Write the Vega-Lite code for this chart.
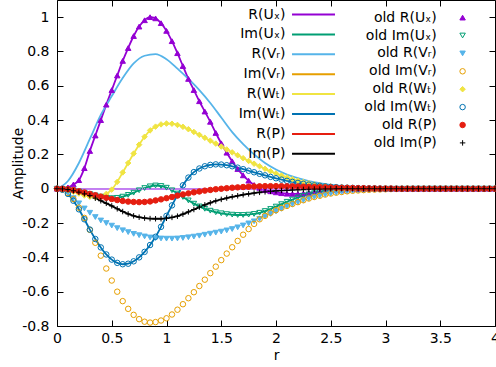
{
"$schema":"https://vega.github.io/schema/vega-lite/v6.json",
"width":438,"height":326,
"autosize":{"type":"none"},
"padding":{"left":57,"top":0,"right":1,"bottom":41},
"background":"white",
"config":{
 "font":"DejaVu Sans",
 "view":{"stroke":"#000","strokeWidth":1},
 "axis":{"grid":false,"domain":false,"ticks":true,"tickColor":"#000","tickWidth":1,"tickSize":-6,"labelFont":"DejaVu Sans","labelFontSize":14,"labelColor":"#000","titleFont":"DejaVu Sans","titleFontSize":14,"titleFontWeight":"normal","titleColor":"#000"},
 "legend":{"labelFont":"DejaVu Sans","labelFontSize":14,"labelColor":"#000","padding":0,"labelLimit":300}
},
"data":{"values":[
{"s":"R(Uₓ)","r":0,"v":0},{"s":"R(Uₓ)","r":0.05,"v":0.002},{"s":"R(Uₓ)","r":0.1,"v":0.008},{"s":"R(Uₓ)","r":0.15,"v":0.025},{"s":"R(Uₓ)","r":0.2,"v":0.05},{"s":"R(Uₓ)","r":0.25,"v":0.12},{"s":"R(Uₓ)","r":0.3,"v":0.22},{"s":"R(Uₓ)","r":0.35,"v":0.31},{"s":"R(Uₓ)","r":0.4,"v":0.4},{"s":"R(Uₓ)","r":0.45,"v":0.49},
{"s":"R(Uₓ)","r":0.5,"v":0.575},{"s":"R(Uₓ)","r":0.55,"v":0.66},{"s":"R(Uₓ)","r":0.6,"v":0.745},{"s":"R(Uₓ)","r":0.65,"v":0.82},{"s":"R(Uₓ)","r":0.7,"v":0.89},{"s":"R(Uₓ)","r":0.75,"v":0.945},{"s":"R(Uₓ)","r":0.8,"v":0.982},{"s":"R(Uₓ)","r":0.85,"v":1.0},{"s":"R(Uₓ)","r":0.9,"v":0.993},{"s":"R(Uₓ)","r":0.95,"v":0.965},
{"s":"R(Uₓ)","r":1,"v":0.92},{"s":"R(Uₓ)","r":1.05,"v":0.86},{"s":"R(Uₓ)","r":1.1,"v":0.79},{"s":"R(Uₓ)","r":1.15,"v":0.715},{"s":"R(Uₓ)","r":1.2,"v":0.64},{"s":"R(Uₓ)","r":1.25,"v":0.575},{"s":"R(Uₓ)","r":1.3,"v":0.51},{"s":"R(Uₓ)","r":1.35,"v":0.45},{"s":"R(Uₓ)","r":1.4,"v":0.39},{"s":"R(Uₓ)","r":1.45,"v":0.325},
{"s":"R(Uₓ)","r":1.5,"v":0.265},{"s":"R(Uₓ)","r":1.55,"v":0.21},{"s":"R(Uₓ)","r":1.6,"v":0.16},{"s":"R(Uₓ)","r":1.65,"v":0.115},{"s":"R(Uₓ)","r":1.7,"v":0.078},{"s":"R(Uₓ)","r":1.75,"v":0.047},{"s":"R(Uₓ)","r":1.8,"v":0.022},{"s":"R(Uₓ)","r":1.85,"v":0.005},{"s":"R(Uₓ)","r":1.9,"v":-0.006},{"s":"R(Uₓ)","r":1.95,"v":-0.015},
{"s":"R(Uₓ)","r":2,"v":-0.021},{"s":"R(Uₓ)","r":2.05,"v":-0.026},{"s":"R(Uₓ)","r":2.1,"v":-0.029},{"s":"R(Uₓ)","r":2.15,"v":-0.03},{"s":"R(Uₓ)","r":2.2,"v":-0.03},{"s":"R(Uₓ)","r":2.25,"v":-0.028},{"s":"R(Uₓ)","r":2.3,"v":-0.025},{"s":"R(Uₓ)","r":2.35,"v":-0.021},{"s":"R(Uₓ)","r":2.4,"v":-0.017},{"s":"R(Uₓ)","r":2.45,"v":-0.013},
{"s":"R(Uₓ)","r":2.5,"v":-0.01},{"s":"R(Uₓ)","r":2.55,"v":-0.008},{"s":"R(Uₓ)","r":2.6,"v":-0.006},{"s":"R(Uₓ)","r":2.65,"v":-0.004},{"s":"R(Uₓ)","r":2.7,"v":-0.003},{"s":"R(Uₓ)","r":2.75,"v":-0.002},{"s":"R(Uₓ)","r":2.8,"v":-0.001},{"s":"R(Uₓ)","r":2.85,"v":0},{"s":"R(Uₓ)","r":2.9,"v":0},{"s":"R(Uₓ)","r":2.95,"v":0},
{"s":"R(Uₓ)","r":3,"v":0},{"s":"R(Uₓ)","r":3.05,"v":0},{"s":"R(Uₓ)","r":3.1,"v":0},{"s":"R(Uₓ)","r":3.15,"v":0},{"s":"R(Uₓ)","r":3.2,"v":0},{"s":"R(Uₓ)","r":3.25,"v":0},{"s":"R(Uₓ)","r":3.3,"v":0},{"s":"R(Uₓ)","r":3.35,"v":0},{"s":"R(Uₓ)","r":3.4,"v":0},{"s":"R(Uₓ)","r":3.45,"v":0},
{"s":"R(Uₓ)","r":3.5,"v":0},{"s":"R(Uₓ)","r":3.55,"v":0},{"s":"R(Uₓ)","r":3.6,"v":0},{"s":"R(Uₓ)","r":3.65,"v":0},{"s":"R(Uₓ)","r":3.7,"v":0},{"s":"R(Uₓ)","r":3.75,"v":0},{"s":"R(Uₓ)","r":3.8,"v":0},{"s":"R(Uₓ)","r":3.85,"v":0},{"s":"R(Uₓ)","r":3.9,"v":0},{"s":"R(Uₓ)","r":3.95,"v":0},{"s":"R(Uₓ)","r":4,"v":0},

{"s":"Im(Uₓ)","r":0,"v":0},{"s":"Im(Uₓ)","r":0.05,"v":-0.002},{"s":"Im(Uₓ)","r":0.1,"v":-0.005},{"s":"Im(Uₓ)","r":0.15,"v":-0.01},{"s":"Im(Uₓ)","r":0.2,"v":-0.016},{"s":"Im(Uₓ)","r":0.25,"v":-0.023},{"s":"Im(Uₓ)","r":0.3,"v":-0.031},{"s":"Im(Uₓ)","r":0.35,"v":-0.039},{"s":"Im(Uₓ)","r":0.4,"v":-0.046},{"s":"Im(Uₓ)","r":0.45,"v":-0.052},
{"s":"Im(Uₓ)","r":0.5,"v":-0.055},{"s":"Im(Uₓ)","r":0.55,"v":-0.053},{"s":"Im(Uₓ)","r":0.6,"v":-0.046},{"s":"Im(Uₓ)","r":0.65,"v":-0.036},{"s":"Im(Uₓ)","r":0.7,"v":-0.023},{"s":"Im(Uₓ)","r":0.75,"v":-0.009},{"s":"Im(Uₓ)","r":0.8,"v":0.004},{"s":"Im(Uₓ)","r":0.85,"v":0.014},{"s":"Im(Uₓ)","r":0.9,"v":0.019},{"s":"Im(Uₓ)","r":0.95,"v":0.016},
{"s":"Im(Uₓ)","r":1,"v":0.006},{"s":"Im(Uₓ)","r":1.05,"v":-0.009},{"s":"Im(Uₓ)","r":1.1,"v":-0.028},{"s":"Im(Uₓ)","r":1.15,"v":-0.048},{"s":"Im(Uₓ)","r":1.2,"v":-0.068},{"s":"Im(Uₓ)","r":1.25,"v":-0.087},{"s":"Im(Uₓ)","r":1.3,"v":-0.103},{"s":"Im(Uₓ)","r":1.35,"v":-0.117},{"s":"Im(Uₓ)","r":1.4,"v":-0.128},{"s":"Im(Uₓ)","r":1.45,"v":-0.137},
{"s":"Im(Uₓ)","r":1.5,"v":-0.143},{"s":"Im(Uₓ)","r":1.55,"v":-0.148},{"s":"Im(Uₓ)","r":1.6,"v":-0.151},{"s":"Im(Uₓ)","r":1.65,"v":-0.153},{"s":"Im(Uₓ)","r":1.7,"v":-0.153},{"s":"Im(Uₓ)","r":1.75,"v":-0.151},{"s":"Im(Uₓ)","r":1.8,"v":-0.147},{"s":"Im(Uₓ)","r":1.85,"v":-0.14},{"s":"Im(Uₓ)","r":1.9,"v":-0.13},{"s":"Im(Uₓ)","r":1.95,"v":-0.118},
{"s":"Im(Uₓ)","r":2,"v":-0.104},{"s":"Im(Uₓ)","r":2.05,"v":-0.09},{"s":"Im(Uₓ)","r":2.1,"v":-0.076},{"s":"Im(Uₓ)","r":2.15,"v":-0.063},{"s":"Im(Uₓ)","r":2.2,"v":-0.051},{"s":"Im(Uₓ)","r":2.25,"v":-0.041},{"s":"Im(Uₓ)","r":2.3,"v":-0.033},{"s":"Im(Uₓ)","r":2.35,"v":-0.026},{"s":"Im(Uₓ)","r":2.4,"v":-0.02},{"s":"Im(Uₓ)","r":2.45,"v":-0.016},
{"s":"Im(Uₓ)","r":2.5,"v":-0.012},{"s":"Im(Uₓ)","r":2.55,"v":-0.009},{"s":"Im(Uₓ)","r":2.6,"v":-0.007},{"s":"Im(Uₓ)","r":2.65,"v":-0.005},{"s":"Im(Uₓ)","r":2.7,"v":-0.004},{"s":"Im(Uₓ)","r":2.75,"v":-0.003},{"s":"Im(Uₓ)","r":2.8,"v":-0.002},{"s":"Im(Uₓ)","r":2.85,"v":-0.002},{"s":"Im(Uₓ)","r":2.9,"v":-0.001},{"s":"Im(Uₓ)","r":2.95,"v":-0.001},
{"s":"Im(Uₓ)","r":3,"v":0},{"s":"Im(Uₓ)","r":3.05,"v":0},{"s":"Im(Uₓ)","r":3.1,"v":0},{"s":"Im(Uₓ)","r":3.15,"v":0},{"s":"Im(Uₓ)","r":3.2,"v":0},{"s":"Im(Uₓ)","r":3.25,"v":0},{"s":"Im(Uₓ)","r":3.3,"v":0},{"s":"Im(Uₓ)","r":3.35,"v":0},{"s":"Im(Uₓ)","r":3.4,"v":0},{"s":"Im(Uₓ)","r":3.45,"v":0},
{"s":"Im(Uₓ)","r":3.5,"v":0},{"s":"Im(Uₓ)","r":3.55,"v":0},{"s":"Im(Uₓ)","r":3.6,"v":0},{"s":"Im(Uₓ)","r":3.65,"v":0},{"s":"Im(Uₓ)","r":3.7,"v":0},{"s":"Im(Uₓ)","r":3.75,"v":0},{"s":"Im(Uₓ)","r":3.8,"v":0},{"s":"Im(Uₓ)","r":3.85,"v":0},{"s":"Im(Uₓ)","r":3.9,"v":0},{"s":"Im(Uₓ)","r":3.95,"v":0},{"s":"Im(Uₓ)","r":4,"v":0},

{"s":"R(Vᵣ)","k":"n","r":0,"v":0},{"s":"R(Vᵣ)","k":"n","r":0.1,"v":0.045},{"s":"R(Vᵣ)","k":"n","r":0.2,"v":0.15},{"s":"R(Vᵣ)","k":"n","r":0.3,"v":0.29},{"s":"R(Vᵣ)","k":"n","r":0.4,"v":0.43},{"s":"R(Vᵣ)","k":"n","r":0.5,"v":0.54},{"s":"R(Vᵣ)","k":"n","r":0.6,"v":0.645},{"s":"R(Vᵣ)","k":"n","r":0.7,"v":0.73},{"s":"R(Vᵣ)","k":"n","r":0.8,"v":0.775},{"s":"R(Vᵣ)","k":"n","r":0.9,"v":0.785},
{"s":"R(Vᵣ)","k":"n","r":1,"v":0.755},{"s":"R(Vᵣ)","k":"n","r":1.1,"v":0.7},{"s":"R(Vᵣ)","k":"n","r":1.2,"v":0.64},{"s":"R(Vᵣ)","k":"n","r":1.3,"v":0.575},{"s":"R(Vᵣ)","k":"n","r":1.4,"v":0.5},{"s":"R(Vᵣ)","k":"n","r":1.5,"v":0.415},{"s":"R(Vᵣ)","k":"n","r":1.6,"v":0.33},{"s":"R(Vᵣ)","k":"n","r":1.7,"v":0.26},{"s":"R(Vᵣ)","k":"n","r":1.8,"v":0.2},{"s":"R(Vᵣ)","k":"n","r":1.9,"v":0.15},
{"s":"R(Vᵣ)","k":"n","r":2,"v":0.112},{"s":"R(Vᵣ)","k":"n","r":2.1,"v":0.083},{"s":"R(Vᵣ)","k":"n","r":2.2,"v":0.062},{"s":"R(Vᵣ)","k":"n","r":2.3,"v":0.045},{"s":"R(Vᵣ)","k":"n","r":2.4,"v":0.032},{"s":"R(Vᵣ)","k":"n","r":2.5,"v":0.022},{"s":"R(Vᵣ)","k":"n","r":2.6,"v":0.015},{"s":"R(Vᵣ)","k":"n","r":2.7,"v":0.01},{"s":"R(Vᵣ)","k":"n","r":2.8,"v":0.006},{"s":"R(Vᵣ)","k":"n","r":2.9,"v":0.004},
{"s":"R(Vᵣ)","k":"n","r":3,"v":0.002},{"s":"R(Vᵣ)","k":"n","r":3.5,"v":0},{"s":"R(Vᵣ)","k":"n","r":4,"v":0},

{"s":"R(Vᵣ)","k":"o","r":0,"v":0},{"s":"R(Vᵣ)","k":"o","r":0.05,"v":-0.005},{"s":"R(Vᵣ)","k":"o","r":0.1,"v":-0.025},{"s":"R(Vᵣ)","k":"o","r":0.15,"v":-0.055},{"s":"R(Vᵣ)","k":"o","r":0.2,"v":-0.085},{"s":"R(Vᵣ)","k":"o","r":0.25,"v":-0.115},{"s":"R(Vᵣ)","k":"o","r":0.3,"v":-0.14},{"s":"R(Vᵣ)","k":"o","r":0.35,"v":-0.165},{"s":"R(Vᵣ)","k":"o","r":0.4,"v":-0.185},{"s":"R(Vᵣ)","k":"o","r":0.45,"v":-0.2},
{"s":"R(Vᵣ)","k":"o","r":0.5,"v":-0.215},{"s":"R(Vᵣ)","k":"o","r":0.55,"v":-0.23},{"s":"R(Vᵣ)","k":"o","r":0.6,"v":-0.242},{"s":"R(Vᵣ)","k":"o","r":0.65,"v":-0.253},{"s":"R(Vᵣ)","k":"o","r":0.7,"v":-0.263},{"s":"R(Vᵣ)","k":"o","r":0.75,"v":-0.271},{"s":"R(Vᵣ)","k":"o","r":0.8,"v":-0.278},{"s":"R(Vᵣ)","k":"o","r":0.85,"v":-0.284},{"s":"R(Vᵣ)","k":"o","r":0.9,"v":-0.288},{"s":"R(Vᵣ)","k":"o","r":0.95,"v":-0.29},
{"s":"R(Vᵣ)","k":"o","r":1,"v":-0.291},{"s":"R(Vᵣ)","k":"o","r":1.05,"v":-0.291},{"s":"R(Vᵣ)","k":"o","r":1.1,"v":-0.29},{"s":"R(Vᵣ)","k":"o","r":1.15,"v":-0.287},{"s":"R(Vᵣ)","k":"o","r":1.2,"v":-0.283},{"s":"R(Vᵣ)","k":"o","r":1.25,"v":-0.279},{"s":"R(Vᵣ)","k":"o","r":1.3,"v":-0.274},{"s":"R(Vᵣ)","k":"o","r":1.35,"v":-0.268},{"s":"R(Vᵣ)","k":"o","r":1.4,"v":-0.262},{"s":"R(Vᵣ)","k":"o","r":1.45,"v":-0.256},
{"s":"R(Vᵣ)","k":"o","r":1.5,"v":-0.25},{"s":"R(Vᵣ)","k":"o","r":1.55,"v":-0.243},{"s":"R(Vᵣ)","k":"o","r":1.6,"v":-0.235},{"s":"R(Vᵣ)","k":"o","r":1.65,"v":-0.225},{"s":"R(Vᵣ)","k":"o","r":1.7,"v":-0.214},{"s":"R(Vᵣ)","k":"o","r":1.75,"v":-0.202},{"s":"R(Vᵣ)","k":"o","r":1.8,"v":-0.19},{"s":"R(Vᵣ)","k":"o","r":1.85,"v":-0.176},{"s":"R(Vᵣ)","k":"o","r":1.9,"v":-0.162},{"s":"R(Vᵣ)","k":"o","r":1.95,"v":-0.147},
{"s":"R(Vᵣ)","k":"o","r":2,"v":-0.132},{"s":"R(Vᵣ)","k":"o","r":2.05,"v":-0.117},{"s":"R(Vᵣ)","k":"o","r":2.1,"v":-0.103},{"s":"R(Vᵣ)","k":"o","r":2.15,"v":-0.09},{"s":"R(Vᵣ)","k":"o","r":2.2,"v":-0.078},{"s":"R(Vᵣ)","k":"o","r":2.25,"v":-0.067},{"s":"R(Vᵣ)","k":"o","r":2.3,"v":-0.057},{"s":"R(Vᵣ)","k":"o","r":2.35,"v":-0.048},{"s":"R(Vᵣ)","k":"o","r":2.4,"v":-0.041},{"s":"R(Vᵣ)","k":"o","r":2.45,"v":-0.034},
{"s":"R(Vᵣ)","k":"o","r":2.5,"v":-0.028},{"s":"R(Vᵣ)","k":"o","r":2.55,"v":-0.023},{"s":"R(Vᵣ)","k":"o","r":2.6,"v":-0.019},{"s":"R(Vᵣ)","k":"o","r":2.65,"v":-0.015},{"s":"R(Vᵣ)","k":"o","r":2.7,"v":-0.012},{"s":"R(Vᵣ)","k":"o","r":2.75,"v":-0.01},{"s":"R(Vᵣ)","k":"o","r":2.8,"v":-0.008},{"s":"R(Vᵣ)","k":"o","r":2.85,"v":-0.006},{"s":"R(Vᵣ)","k":"o","r":2.9,"v":-0.005},{"s":"R(Vᵣ)","k":"o","r":2.95,"v":-0.004},
{"s":"R(Vᵣ)","k":"o","r":3,"v":-0.003},{"s":"R(Vᵣ)","k":"o","r":3.05,"v":-0.002},{"s":"R(Vᵣ)","k":"o","r":3.1,"v":-0.002},{"s":"R(Vᵣ)","k":"o","r":3.15,"v":-0.001},{"s":"R(Vᵣ)","k":"o","r":3.2,"v":-0.001},{"s":"R(Vᵣ)","k":"o","r":3.25,"v":0},{"s":"R(Vᵣ)","k":"o","r":3.3,"v":0},{"s":"R(Vᵣ)","k":"o","r":3.35,"v":0},{"s":"R(Vᵣ)","k":"o","r":3.4,"v":0},{"s":"R(Vᵣ)","k":"o","r":3.45,"v":0},
{"s":"R(Vᵣ)","k":"o","r":3.5,"v":0},{"s":"R(Vᵣ)","k":"o","r":3.55,"v":0},{"s":"R(Vᵣ)","k":"o","r":3.6,"v":0},{"s":"R(Vᵣ)","k":"o","r":3.65,"v":0},{"s":"R(Vᵣ)","k":"o","r":3.7,"v":0},{"s":"R(Vᵣ)","k":"o","r":3.75,"v":0},{"s":"R(Vᵣ)","k":"o","r":3.8,"v":0},{"s":"R(Vᵣ)","k":"o","r":3.85,"v":0},{"s":"R(Vᵣ)","k":"o","r":3.9,"v":0},{"s":"R(Vᵣ)","k":"o","r":3.95,"v":0},{"s":"R(Vᵣ)","k":"o","r":4,"v":0},

{"s":"Im(Vᵣ)","k":"o","r":0,"v":0},{"s":"Im(Vᵣ)","k":"o","r":0.05,"v":-0.005},{"s":"Im(Vᵣ)","k":"o","r":0.1,"v":-0.025},{"s":"Im(Vᵣ)","k":"o","r":0.15,"v":-0.06},{"s":"Im(Vᵣ)","k":"o","r":0.2,"v":-0.11},{"s":"Im(Vᵣ)","k":"o","r":0.25,"v":-0.17},{"s":"Im(Vᵣ)","k":"o","r":0.3,"v":-0.24},{"s":"Im(Vᵣ)","k":"o","r":0.35,"v":-0.315},{"s":"Im(Vᵣ)","k":"o","r":0.4,"v":-0.39},{"s":"Im(Vᵣ)","k":"o","r":0.45,"v":-0.465},
{"s":"Im(Vᵣ)","k":"o","r":0.5,"v":-0.535},{"s":"Im(Vᵣ)","k":"o","r":0.55,"v":-0.6},{"s":"Im(Vᵣ)","k":"o","r":0.6,"v":-0.655},{"s":"Im(Vᵣ)","k":"o","r":0.65,"v":-0.7},{"s":"Im(Vᵣ)","k":"o","r":0.7,"v":-0.735},{"s":"Im(Vᵣ)","k":"o","r":0.75,"v":-0.76},{"s":"Im(Vᵣ)","k":"o","r":0.8,"v":-0.775},{"s":"Im(Vᵣ)","k":"o","r":0.85,"v":-0.78},{"s":"Im(Vᵣ)","k":"o","r":0.9,"v":-0.777},{"s":"Im(Vᵣ)","k":"o","r":0.95,"v":-0.768},
{"s":"Im(Vᵣ)","k":"o","r":1,"v":-0.755},{"s":"Im(Vᵣ)","k":"o","r":1.05,"v":-0.733},{"s":"Im(Vᵣ)","k":"o","r":1.1,"v":-0.705},{"s":"Im(Vᵣ)","k":"o","r":1.15,"v":-0.673},{"s":"Im(Vᵣ)","k":"o","r":1.2,"v":-0.638},{"s":"Im(Vᵣ)","k":"o","r":1.25,"v":-0.603},{"s":"Im(Vᵣ)","k":"o","r":1.3,"v":-0.567},{"s":"Im(Vᵣ)","k":"o","r":1.35,"v":-0.53},{"s":"Im(Vᵣ)","k":"o","r":1.4,"v":-0.492},{"s":"Im(Vᵣ)","k":"o","r":1.45,"v":-0.454},
{"s":"Im(Vᵣ)","k":"o","r":1.5,"v":-0.416},{"s":"Im(Vᵣ)","k":"o","r":1.55,"v":-0.378},{"s":"Im(Vᵣ)","k":"o","r":1.6,"v":-0.341},{"s":"Im(Vᵣ)","k":"o","r":1.65,"v":-0.304},{"s":"Im(Vᵣ)","k":"o","r":1.7,"v":-0.268},{"s":"Im(Vᵣ)","k":"o","r":1.75,"v":-0.235},{"s":"Im(Vᵣ)","k":"o","r":1.8,"v":-0.205},{"s":"Im(Vᵣ)","k":"o","r":1.85,"v":-0.178},{"s":"Im(Vᵣ)","k":"o","r":1.9,"v":-0.158},{"s":"Im(Vᵣ)","k":"o","r":1.95,"v":-0.14},
{"s":"Im(Vᵣ)","k":"o","r":2,"v":-0.125},{"s":"Im(Vᵣ)","k":"o","r":2.05,"v":-0.112},{"s":"Im(Vᵣ)","k":"o","r":2.1,"v":-0.1},{"s":"Im(Vᵣ)","k":"o","r":2.15,"v":-0.089},{"s":"Im(Vᵣ)","k":"o","r":2.2,"v":-0.078},{"s":"Im(Vᵣ)","k":"o","r":2.25,"v":-0.067},{"s":"Im(Vᵣ)","k":"o","r":2.3,"v":-0.057},{"s":"Im(Vᵣ)","k":"o","r":2.35,"v":-0.048},{"s":"Im(Vᵣ)","k":"o","r":2.4,"v":-0.041},{"s":"Im(Vᵣ)","k":"o","r":2.45,"v":-0.034},
{"s":"Im(Vᵣ)","k":"o","r":2.5,"v":-0.028},{"s":"Im(Vᵣ)","k":"o","r":2.55,"v":-0.023},{"s":"Im(Vᵣ)","k":"o","r":2.6,"v":-0.019},{"s":"Im(Vᵣ)","k":"o","r":2.65,"v":-0.015},{"s":"Im(Vᵣ)","k":"o","r":2.7,"v":-0.012},{"s":"Im(Vᵣ)","k":"o","r":2.75,"v":-0.01},{"s":"Im(Vᵣ)","k":"o","r":2.8,"v":-0.008},{"s":"Im(Vᵣ)","k":"o","r":2.85,"v":-0.006},{"s":"Im(Vᵣ)","k":"o","r":2.9,"v":-0.005},{"s":"Im(Vᵣ)","k":"o","r":2.95,"v":-0.004},
{"s":"Im(Vᵣ)","k":"o","r":3,"v":-0.003},{"s":"Im(Vᵣ)","k":"o","r":3.05,"v":-0.002},{"s":"Im(Vᵣ)","k":"o","r":3.1,"v":-0.001},{"s":"Im(Vᵣ)","k":"o","r":3.15,"v":-0.001},{"s":"Im(Vᵣ)","k":"o","r":3.2,"v":0},{"s":"Im(Vᵣ)","k":"o","r":3.25,"v":0},{"s":"Im(Vᵣ)","k":"o","r":3.3,"v":0},{"s":"Im(Vᵣ)","k":"o","r":3.35,"v":0},{"s":"Im(Vᵣ)","k":"o","r":3.4,"v":0},{"s":"Im(Vᵣ)","k":"o","r":3.45,"v":0},
{"s":"Im(Vᵣ)","k":"o","r":3.5,"v":0},{"s":"Im(Vᵣ)","k":"o","r":3.55,"v":0},{"s":"Im(Vᵣ)","k":"o","r":3.6,"v":0},{"s":"Im(Vᵣ)","k":"o","r":3.65,"v":0},{"s":"Im(Vᵣ)","k":"o","r":3.7,"v":0},{"s":"Im(Vᵣ)","k":"o","r":3.75,"v":0},{"s":"Im(Vᵣ)","k":"o","r":3.8,"v":0},{"s":"Im(Vᵣ)","k":"o","r":3.85,"v":0},{"s":"Im(Vᵣ)","k":"o","r":3.9,"v":0},{"s":"Im(Vᵣ)","k":"o","r":3.95,"v":0},{"s":"Im(Vᵣ)","k":"o","r":4,"v":0},

{"s":"R(Wₜ)","r":0,"v":0},{"s":"R(Wₜ)","r":0.05,"v":-0.002},{"s":"R(Wₜ)","r":0.1,"v":-0.008},{"s":"R(Wₜ)","r":0.15,"v":-0.017},{"s":"R(Wₜ)","r":0.2,"v":-0.028},{"s":"R(Wₜ)","r":0.25,"v":-0.039},{"s":"R(Wₜ)","r":0.3,"v":-0.047},{"s":"R(Wₜ)","r":0.35,"v":-0.05},{"s":"R(Wₜ)","r":0.4,"v":-0.045},{"s":"R(Wₜ)","r":0.45,"v":-0.03},
{"s":"R(Wₜ)","r":0.5,"v":-0.005},{"s":"R(Wₜ)","r":0.55,"v":0.04},{"s":"R(Wₜ)","r":0.6,"v":0.095},{"s":"R(Wₜ)","r":0.65,"v":0.15},{"s":"R(Wₜ)","r":0.7,"v":0.205},{"s":"R(Wₜ)","r":0.75,"v":0.257},{"s":"R(Wₜ)","r":0.8,"v":0.303},{"s":"R(Wₜ)","r":0.85,"v":0.34},{"s":"R(Wₜ)","r":0.9,"v":0.362},{"s":"R(Wₜ)","r":0.95,"v":0.375},
{"s":"R(Wₜ)","r":1,"v":0.38},{"s":"R(Wₜ)","r":1.05,"v":0.379},{"s":"R(Wₜ)","r":1.1,"v":0.372},{"s":"R(Wₜ)","r":1.15,"v":0.361},{"s":"R(Wₜ)","r":1.2,"v":0.347},{"s":"R(Wₜ)","r":1.25,"v":0.331},{"s":"R(Wₜ)","r":1.3,"v":0.314},{"s":"R(Wₜ)","r":1.35,"v":0.297},{"s":"R(Wₜ)","r":1.4,"v":0.28},{"s":"R(Wₜ)","r":1.45,"v":0.263},
{"s":"R(Wₜ)","r":1.5,"v":0.246},{"s":"R(Wₜ)","r":1.55,"v":0.229},{"s":"R(Wₜ)","r":1.6,"v":0.212},{"s":"R(Wₜ)","r":1.65,"v":0.195},{"s":"R(Wₜ)","r":1.7,"v":0.178},{"s":"R(Wₜ)","r":1.75,"v":0.162},{"s":"R(Wₜ)","r":1.8,"v":0.146},{"s":"R(Wₜ)","r":1.85,"v":0.131},{"s":"R(Wₜ)","r":1.9,"v":0.116},{"s":"R(Wₜ)","r":1.95,"v":0.102},
{"s":"R(Wₜ)","r":2,"v":0.089},{"s":"R(Wₜ)","r":2.05,"v":0.077},{"s":"R(Wₜ)","r":2.1,"v":0.066},{"s":"R(Wₜ)","r":2.15,"v":0.056},{"s":"R(Wₜ)","r":2.2,"v":0.047},{"s":"R(Wₜ)","r":2.25,"v":0.039},{"s":"R(Wₜ)","r":2.3,"v":0.032},{"s":"R(Wₜ)","r":2.35,"v":0.026},{"s":"R(Wₜ)","r":2.4,"v":0.021},{"s":"R(Wₜ)","r":2.45,"v":0.017},
{"s":"R(Wₜ)","r":2.5,"v":0.014},{"s":"R(Wₜ)","r":2.55,"v":0.011},{"s":"R(Wₜ)","r":2.6,"v":0.009},{"s":"R(Wₜ)","r":2.65,"v":0.007},{"s":"R(Wₜ)","r":2.7,"v":0.005},{"s":"R(Wₜ)","r":2.75,"v":0.004},{"s":"R(Wₜ)","r":2.8,"v":0.003},{"s":"R(Wₜ)","r":2.85,"v":0.002},{"s":"R(Wₜ)","r":2.9,"v":0.002},{"s":"R(Wₜ)","r":2.95,"v":0.001},
{"s":"R(Wₜ)","r":3,"v":0.001},{"s":"R(Wₜ)","r":3.05,"v":0},{"s":"R(Wₜ)","r":3.1,"v":0},{"s":"R(Wₜ)","r":3.15,"v":0},{"s":"R(Wₜ)","r":3.2,"v":0},{"s":"R(Wₜ)","r":3.25,"v":0},{"s":"R(Wₜ)","r":3.3,"v":0},{"s":"R(Wₜ)","r":3.35,"v":0},{"s":"R(Wₜ)","r":3.4,"v":0},{"s":"R(Wₜ)","r":3.45,"v":0},
{"s":"R(Wₜ)","r":3.5,"v":0},{"s":"R(Wₜ)","r":3.55,"v":0},{"s":"R(Wₜ)","r":3.6,"v":0},{"s":"R(Wₜ)","r":3.65,"v":0},{"s":"R(Wₜ)","r":3.7,"v":0},{"s":"R(Wₜ)","r":3.75,"v":0},{"s":"R(Wₜ)","r":3.8,"v":0},{"s":"R(Wₜ)","r":3.85,"v":0},{"s":"R(Wₜ)","r":3.9,"v":0},{"s":"R(Wₜ)","r":3.95,"v":0},{"s":"R(Wₜ)","r":4,"v":0},

{"s":"Im(Wₜ)","r":0,"v":0},{"s":"Im(Wₜ)","r":0.05,"v":-0.006},{"s":"Im(Wₜ)","r":0.1,"v":-0.03},{"s":"Im(Wₜ)","r":0.15,"v":-0.07},{"s":"Im(Wₜ)","r":0.2,"v":-0.12},{"s":"Im(Wₜ)","r":0.25,"v":-0.178},{"s":"Im(Wₜ)","r":0.3,"v":-0.238},{"s":"Im(Wₜ)","r":0.35,"v":-0.293},{"s":"Im(Wₜ)","r":0.4,"v":-0.342},{"s":"Im(Wₜ)","r":0.45,"v":-0.383},
{"s":"Im(Wₜ)","r":0.5,"v":-0.413},{"s":"Im(Wₜ)","r":0.55,"v":-0.432},{"s":"Im(Wₜ)","r":0.6,"v":-0.44},{"s":"Im(Wₜ)","r":0.65,"v":-0.437},{"s":"Im(Wₜ)","r":0.7,"v":-0.423},{"s":"Im(Wₜ)","r":0.75,"v":-0.4},{"s":"Im(Wₜ)","r":0.8,"v":-0.368},{"s":"Im(Wₜ)","r":0.85,"v":-0.328},{"s":"Im(Wₜ)","r":0.9,"v":-0.28},{"s":"Im(Wₜ)","r":0.95,"v":-0.222},
{"s":"Im(Wₜ)","r":1,"v":-0.158},{"s":"Im(Wₜ)","r":1.05,"v":-0.097},{"s":"Im(Wₜ)","r":1.1,"v":-0.037},{"s":"Im(Wₜ)","r":1.15,"v":0.02},{"s":"Im(Wₜ)","r":1.2,"v":0.065},{"s":"Im(Wₜ)","r":1.25,"v":0.097},{"s":"Im(Wₜ)","r":1.3,"v":0.118},{"s":"Im(Wₜ)","r":1.35,"v":0.131},{"s":"Im(Wₜ)","r":1.4,"v":0.139},{"s":"Im(Wₜ)","r":1.45,"v":0.142},
{"s":"Im(Wₜ)","r":1.5,"v":0.141},{"s":"Im(Wₜ)","r":1.55,"v":0.137},{"s":"Im(Wₜ)","r":1.6,"v":0.131},{"s":"Im(Wₜ)","r":1.65,"v":0.123},{"s":"Im(Wₜ)","r":1.7,"v":0.114},{"s":"Im(Wₜ)","r":1.75,"v":0.105},{"s":"Im(Wₜ)","r":1.8,"v":0.096},{"s":"Im(Wₜ)","r":1.85,"v":0.087},{"s":"Im(Wₜ)","r":1.9,"v":0.078},{"s":"Im(Wₜ)","r":1.95,"v":0.069},
{"s":"Im(Wₜ)","r":2,"v":0.061},{"s":"Im(Wₜ)","r":2.05,"v":0.053},{"s":"Im(Wₜ)","r":2.1,"v":0.046},{"s":"Im(Wₜ)","r":2.15,"v":0.04},{"s":"Im(Wₜ)","r":2.2,"v":0.034},{"s":"Im(Wₜ)","r":2.25,"v":0.029},{"s":"Im(Wₜ)","r":2.3,"v":0.024},{"s":"Im(Wₜ)","r":2.35,"v":0.02},{"s":"Im(Wₜ)","r":2.4,"v":0.017},{"s":"Im(Wₜ)","r":2.45,"v":0.014},
{"s":"Im(Wₜ)","r":2.5,"v":0.011},{"s":"Im(Wₜ)","r":2.55,"v":0.009},{"s":"Im(Wₜ)","r":2.6,"v":0.007},{"s":"Im(Wₜ)","r":2.65,"v":0.006},{"s":"Im(Wₜ)","r":2.7,"v":0.005},{"s":"Im(Wₜ)","r":2.75,"v":0.004},{"s":"Im(Wₜ)","r":2.8,"v":0.003},{"s":"Im(Wₜ)","r":2.85,"v":0.002},{"s":"Im(Wₜ)","r":2.9,"v":0.002},{"s":"Im(Wₜ)","r":2.95,"v":0.001},
{"s":"Im(Wₜ)","r":3,"v":0},{"s":"Im(Wₜ)","r":3.05,"v":0},{"s":"Im(Wₜ)","r":3.1,"v":0},{"s":"Im(Wₜ)","r":3.15,"v":0},{"s":"Im(Wₜ)","r":3.2,"v":0},{"s":"Im(Wₜ)","r":3.25,"v":0},{"s":"Im(Wₜ)","r":3.3,"v":0},{"s":"Im(Wₜ)","r":3.35,"v":0},{"s":"Im(Wₜ)","r":3.4,"v":0},{"s":"Im(Wₜ)","r":3.45,"v":0},
{"s":"Im(Wₜ)","r":3.5,"v":0},{"s":"Im(Wₜ)","r":3.55,"v":0},{"s":"Im(Wₜ)","r":3.6,"v":0},{"s":"Im(Wₜ)","r":3.65,"v":0},{"s":"Im(Wₜ)","r":3.7,"v":0},{"s":"Im(Wₜ)","r":3.75,"v":0},{"s":"Im(Wₜ)","r":3.8,"v":0},{"s":"Im(Wₜ)","r":3.85,"v":0},{"s":"Im(Wₜ)","r":3.9,"v":0},{"s":"Im(Wₜ)","r":3.95,"v":0},{"s":"Im(Wₜ)","r":4,"v":0},

{"s":"R(P)","r":0,"v":0},{"s":"R(P)","r":0.05,"v":0},{"s":"R(P)","r":0.1,"v":-0.003},{"s":"R(P)","r":0.15,"v":-0.008},{"s":"R(P)","r":0.2,"v":-0.015},{"s":"R(P)","r":0.25,"v":-0.022},{"s":"R(P)","r":0.3,"v":-0.03},{"s":"R(P)","r":0.35,"v":-0.038},{"s":"R(P)","r":0.4,"v":-0.046},{"s":"R(P)","r":0.45,"v":-0.053},
{"s":"R(P)","r":0.5,"v":-0.06},{"s":"R(P)","r":0.55,"v":-0.066},{"s":"R(P)","r":0.6,"v":-0.071},{"s":"R(P)","r":0.65,"v":-0.075},{"s":"R(P)","r":0.7,"v":-0.077},{"s":"R(P)","r":0.75,"v":-0.078},{"s":"R(P)","r":0.8,"v":-0.077},{"s":"R(P)","r":0.85,"v":-0.074},{"s":"R(P)","r":0.9,"v":-0.068},{"s":"R(P)","r":0.95,"v":-0.062},
{"s":"R(P)","r":1,"v":-0.055},{"s":"R(P)","r":1.05,"v":-0.048},{"s":"R(P)","r":1.1,"v":-0.04},{"s":"R(P)","r":1.15,"v":-0.033},{"s":"R(P)","r":1.2,"v":-0.027},{"s":"R(P)","r":1.25,"v":-0.021},{"s":"R(P)","r":1.3,"v":-0.016},{"s":"R(P)","r":1.35,"v":-0.011},{"s":"R(P)","r":1.4,"v":-0.007},{"s":"R(P)","r":1.45,"v":-0.003},
{"s":"R(P)","r":1.5,"v":0},{"s":"R(P)","r":1.55,"v":0.003},{"s":"R(P)","r":1.6,"v":0.006},{"s":"R(P)","r":1.65,"v":0.008},{"s":"R(P)","r":1.7,"v":0.01},{"s":"R(P)","r":1.75,"v":0.012},{"s":"R(P)","r":1.8,"v":0.013},{"s":"R(P)","r":1.85,"v":0.014},{"s":"R(P)","r":1.9,"v":0.015},{"s":"R(P)","r":1.95,"v":0.015},
{"s":"R(P)","r":2,"v":0.015},{"s":"R(P)","r":2.05,"v":0.015},{"s":"R(P)","r":2.1,"v":0.014},{"s":"R(P)","r":2.15,"v":0.014},{"s":"R(P)","r":2.2,"v":0.013},{"s":"R(P)","r":2.25,"v":0.012},{"s":"R(P)","r":2.3,"v":0.011},{"s":"R(P)","r":2.35,"v":0.01},{"s":"R(P)","r":2.4,"v":0.009},{"s":"R(P)","r":2.45,"v":0.008},
{"s":"R(P)","r":2.5,"v":0.007},{"s":"R(P)","r":2.55,"v":0.006},{"s":"R(P)","r":2.6,"v":0.005},{"s":"R(P)","r":2.65,"v":0.005},{"s":"R(P)","r":2.7,"v":0.004},{"s":"R(P)","r":2.75,"v":0.003},{"s":"R(P)","r":2.8,"v":0.003},{"s":"R(P)","r":2.85,"v":0.002},{"s":"R(P)","r":2.9,"v":0.002},{"s":"R(P)","r":2.95,"v":0.001},
{"s":"R(P)","r":3,"v":0.001},{"s":"R(P)","r":3.05,"v":0.001},{"s":"R(P)","r":3.1,"v":0},{"s":"R(P)","r":3.15,"v":0},{"s":"R(P)","r":3.2,"v":0},{"s":"R(P)","r":3.25,"v":0},{"s":"R(P)","r":3.3,"v":0},{"s":"R(P)","r":3.35,"v":0},{"s":"R(P)","r":3.4,"v":0},{"s":"R(P)","r":3.45,"v":0},
{"s":"R(P)","r":3.5,"v":0},{"s":"R(P)","r":3.55,"v":0},{"s":"R(P)","r":3.6,"v":0},{"s":"R(P)","r":3.65,"v":0},{"s":"R(P)","r":3.7,"v":0},{"s":"R(P)","r":3.75,"v":0},{"s":"R(P)","r":3.8,"v":0},{"s":"R(P)","r":3.85,"v":0},{"s":"R(P)","r":3.9,"v":0},{"s":"R(P)","r":3.95,"v":0},{"s":"R(P)","r":4,"v":0},

{"s":"Im(P)","r":0,"v":0},{"s":"Im(P)","r":0.05,"v":-0.001},{"s":"Im(P)","r":0.1,"v":-0.005},{"s":"Im(P)","r":0.15,"v":-0.012},{"s":"Im(P)","r":0.2,"v":-0.02},{"s":"Im(P)","r":0.25,"v":-0.03},{"s":"Im(P)","r":0.3,"v":-0.04},{"s":"Im(P)","r":0.35,"v":-0.055},{"s":"Im(P)","r":0.4,"v":-0.07},{"s":"Im(P)","r":0.45,"v":-0.085},
{"s":"Im(P)","r":0.5,"v":-0.1},{"s":"Im(P)","r":0.55,"v":-0.117},{"s":"Im(P)","r":0.6,"v":-0.133},{"s":"Im(P)","r":0.65,"v":-0.147},{"s":"Im(P)","r":0.7,"v":-0.158},{"s":"Im(P)","r":0.75,"v":-0.166},{"s":"Im(P)","r":0.8,"v":-0.171},{"s":"Im(P)","r":0.85,"v":-0.174},{"s":"Im(P)","r":0.9,"v":-0.175},{"s":"Im(P)","r":0.95,"v":-0.175},
{"s":"Im(P)","r":1,"v":-0.172},{"s":"Im(P)","r":1.05,"v":-0.167},{"s":"Im(P)","r":1.1,"v":-0.16},{"s":"Im(P)","r":1.15,"v":-0.148},{"s":"Im(P)","r":1.2,"v":-0.135},{"s":"Im(P)","r":1.25,"v":-0.121},{"s":"Im(P)","r":1.3,"v":-0.107},{"s":"Im(P)","r":1.35,"v":-0.094},{"s":"Im(P)","r":1.4,"v":-0.082},{"s":"Im(P)","r":1.45,"v":-0.071},
{"s":"Im(P)","r":1.5,"v":-0.062},{"s":"Im(P)","r":1.55,"v":-0.054},{"s":"Im(P)","r":1.6,"v":-0.047},{"s":"Im(P)","r":1.65,"v":-0.041},{"s":"Im(P)","r":1.7,"v":-0.035},{"s":"Im(P)","r":1.75,"v":-0.03},{"s":"Im(P)","r":1.8,"v":-0.025},{"s":"Im(P)","r":1.85,"v":-0.021},{"s":"Im(P)","r":1.9,"v":-0.018},{"s":"Im(P)","r":1.95,"v":-0.015},
{"s":"Im(P)","r":2,"v":-0.012},{"s":"Im(P)","r":2.05,"v":-0.01},{"s":"Im(P)","r":2.1,"v":-0.008},{"s":"Im(P)","r":2.15,"v":-0.006},{"s":"Im(P)","r":2.2,"v":-0.005},{"s":"Im(P)","r":2.25,"v":-0.004},{"s":"Im(P)","r":2.3,"v":-0.003},{"s":"Im(P)","r":2.35,"v":-0.002},{"s":"Im(P)","r":2.4,"v":-0.002},{"s":"Im(P)","r":2.45,"v":-0.001},
{"s":"Im(P)","r":2.5,"v":-0.001},{"s":"Im(P)","r":2.55,"v":0},{"s":"Im(P)","r":2.6,"v":0},{"s":"Im(P)","r":2.65,"v":0},{"s":"Im(P)","r":2.7,"v":0},{"s":"Im(P)","r":2.75,"v":0},{"s":"Im(P)","r":2.8,"v":0},{"s":"Im(P)","r":2.85,"v":0},{"s":"Im(P)","r":2.9,"v":0},{"s":"Im(P)","r":2.95,"v":0},
{"s":"Im(P)","r":3,"v":0},{"s":"Im(P)","r":3.05,"v":0},{"s":"Im(P)","r":3.1,"v":0},{"s":"Im(P)","r":3.15,"v":0},{"s":"Im(P)","r":3.2,"v":0},{"s":"Im(P)","r":3.25,"v":0},{"s":"Im(P)","r":3.3,"v":0},{"s":"Im(P)","r":3.35,"v":0},{"s":"Im(P)","r":3.4,"v":0},{"s":"Im(P)","r":3.45,"v":0},
{"s":"Im(P)","r":3.5,"v":0},{"s":"Im(P)","r":3.55,"v":0},{"s":"Im(P)","r":3.6,"v":0},{"s":"Im(P)","r":3.65,"v":0},{"s":"Im(P)","r":3.7,"v":0},{"s":"Im(P)","r":3.75,"v":0},{"s":"Im(P)","r":3.8,"v":0},{"s":"Im(P)","r":3.85,"v":0},{"s":"Im(P)","r":3.9,"v":0},{"s":"Im(P)","r":3.95,"v":0},{"s":"Im(P)","r":4,"v":0}
]},
"layer":[
 {"transform":[{"filter":"datum.k != 'o'"}],
  "mark":{"type":"line","strokeWidth":1.8,"interpolate":"monotone"},
  "encoding":{
   "x":{"field":"r","type":"quantitative","scale":{"domain":[0,4],"nice":false},
        "axis":{"orient":"bottom","values":[0,0.5,1,1.5,2,2.5,3,3.5,4],"labelExpr":"replace(format(datum.value,'~g'),'−','-')","labelPadding":11,"labelFlush":false,"title":"r","titlePadding":3}},
   "y":{"field":"v","type":"quantitative","scale":{"domain":[-0.8,1.1],"nice":false,"zero":false},
        "axis":{"orient":"left","values":[-0.8,-0.6,-0.4,-0.2,0,0.2,0.4,0.6,0.8,1],"labelExpr":"replace(format(datum.value,'~g'),'−','-')","labelPadding":14,"title":"Amplitude","titlePadding":-4}},
   "color":{"field":"s","type":"nominal",
        "scale":{"domain":["R(Uₓ)","Im(Uₓ)","R(Vᵣ)","Im(Vᵣ)","R(Wₜ)","Im(Wₜ)","R(P)","Im(P)","_"],"range":["#9400d3","#009e73","#56b4e9","#e69f00","#f0e442","#0072b2","#e51e10","#000000","#ffffff"]},
        "legend":{"orient":"none","legendX":248,"legendY":6,"title":null,"direction":"vertical","values":["R(Uₓ)","Im(Uₓ)","R(Vᵣ)","Im(Vᵣ)","R(Wₜ)","Im(Wₜ)","R(P)","Im(P)"],"symbolType":"M-3,0H3","symbolSize":205,"symbolStrokeWidth":2,"labelAlign":"right","labelOffset":-36.6,"rowPadding":3.9}}
  }},
 {"mark":{"type":"rule","color":"#c27ff0","strokeWidth":1},
  "encoding":{"y":{"datum":0,"type":"quantitative","axis":null}}},
 {"transform":[{"filter":"datum.k != 'n'"}],
  "mark":{"type":"point","size":30,"strokeWidth":1,"opacity":1},
  "encoding":{
   "x":{"field":"r","type":"quantitative","axis":{"orient":"top","labels":false,"title":null,"values":[0,0.5,1,1.5,2,2.5,3,3.5,4]}},
   "y":{"field":"v","type":"quantitative","axis":{"orient":"right","labels":false,"title":null,"values":[-0.8,-0.6,-0.4,-0.2,0,0.2,0.4,0.6,0.8,1]}},
   "shape":{"field":"s","type":"nominal",
        "scale":{"domain":["R(Uₓ)","Im(Uₓ)","R(Vᵣ)","Im(Vᵣ)","R(Wₜ)","Im(Wₜ)","R(P)","Im(P)"],"range":["triangle-up","triangle-down","triangle-down","circle","diamond","circle","circle","M-1,0H1M0,-1V1"]},
        "legend":{"orient":"none","legendX":398.6,"legendY":10.6,"title":null,"direction":"vertical","symbolSize":30,"symbolStrokeWidth":1,"labelAlign":"right","labelOffset":-32.8,"labelExpr":"'old ' + datum.label","rowPadding":3.9}},
   "fill":{"field":"s","type":"nominal",
        "scale":{"domain":["R(Uₓ)","Im(Uₓ)","R(Vᵣ)","Im(Vᵣ)","R(Wₜ)","Im(Wₜ)","R(P)","Im(P)"],"range":["#9400d3","transparent","#56b4e9","transparent","#f0e442","transparent","#e51e10","transparent"]},
        "legend":{"orient":"none","legendX":398.6,"legendY":10.6,"title":null,"direction":"vertical","symbolSize":30,"symbolStrokeWidth":1,"labelAlign":"right","labelOffset":-32.8,"labelExpr":"'old ' + datum.label","rowPadding":3.9}},
   "stroke":{"field":"s","type":"nominal",
        "scale":{"domain":["R(Uₓ)","Im(Uₓ)","R(Vᵣ)","Im(Vᵣ)","R(Wₜ)","Im(Wₜ)","R(P)","Im(P)"],"range":["#9400d3","#009e73","#56b4e9","#e69f00","#f0e442","#0072b2","#e51e10","#000000"]},
        "legend":{"orient":"none","legendX":398.6,"legendY":10.6,"title":null,"direction":"vertical","symbolSize":30,"symbolStrokeWidth":1,"labelAlign":"right","labelOffset":-32.8,"labelExpr":"'old ' + datum.label","rowPadding":3.9}}
  }}
],
"resolve":{"axis":{"x":"independent","y":"independent"}}
}
